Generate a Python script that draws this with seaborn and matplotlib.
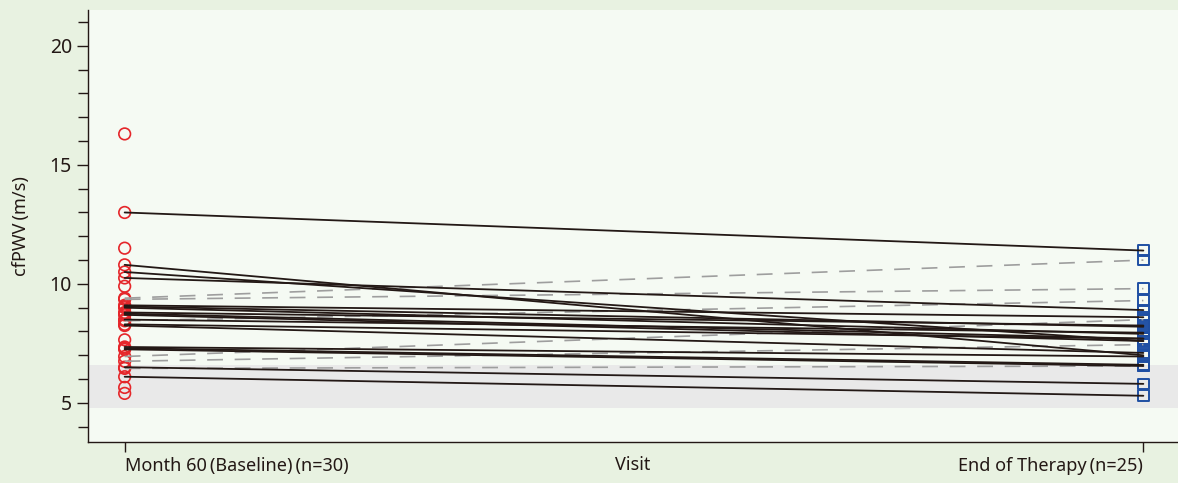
import numpy as np
import pandas as pd
import matplotlib
matplotlib.use("Agg")
import matplotlib.pyplot as plt
import seaborn as sns
from matplotlib.ticker import MultipleLocator

# ---------------- data ----------------
visit_labels = ["Month 60\u2009(Baseline)\u2009(n=30)", "End of Therapy\u2009(n=25)"]
y_label = "cfPWV\u2009(m/s)"
x_label = "Visit"

# paired subjects whose cfPWV decreased (solid black)
dec_baseline = [13.0, 10.8, 10.5, 10.25, 9.1, 9.05, 9.0, 8.8, 8.75, 8.7, 8.5, 8.3, 8.25, 7.35, 7.3, 7.25, 6.5, 6.1]
dec_end      = [11.4, 7.0, 7.6, 8.9, 8.6, 8.2, 7.9, 8.25, 7.7, 7.6, 7.95, 7.7, 7.1, 6.95, 6.6, 6.55, 5.8, 5.3]
# paired subjects whose cfPWV increased (grey dashed)
inc_baseline = [9.4, 9.35, 8.45, 6.95, 6.75, 6.45]
inc_end      = [11.0, 9.8, 9.3, 8.5, 7.45, 6.55]
# baseline-only subjects
only_baseline = [16.3, 11.5, 9.9, 7.65, 5.65, 5.4]

ref_band = (4.8, 6.6)

# ---------------- tidy frames ----------------
rows = []
sid = 0
for b, e in zip(dec_baseline, dec_end):
    rows += [dict(id=sid, visit=0, value=b, trend="dec"), dict(id=sid, visit=1, value=e, trend="dec")]
    sid += 1
for b, e in zip(inc_baseline, inc_end):
    rows += [dict(id=sid, visit=0, value=b, trend="inc"), dict(id=sid, visit=1, value=e, trend="inc")]
    sid += 1
lines_df = pd.DataFrame(rows)

base_pts = pd.DataFrame({"visit": 0, "value": dec_baseline + inc_baseline + only_baseline})
end_pts = pd.DataFrame({"visit": 1, "value": dec_end + inc_end})

# ---------------- figure ----------------
sns.set_style("ticks")
plt.rcParams["font.family"] = ["Noto Sans", "DejaVu Sans"]

ink = "#231815"
fig = plt.figure(figsize=(11.78, 4.83), dpi=100, facecolor="#e8f2e1")
ax = fig.add_axes([0.0747, 0.085, 0.9253, 0.894])
ax.set_facecolor("#f5faf3")

ax.axhspan(*ref_band, color="#e9e9e9", zorder=0, lw=0)

sns.scatterplot(data=base_pts, x="visit", y="value", ax=ax, marker="o", s=70,
                facecolor="none", edgecolor="#e5262a", linewidth=1.2, zorder=2, legend=False)
sns.scatterplot(data=end_pts, x="visit", y="value", ax=ax, marker="s", s=58,
                facecolor="none", edgecolor="#1f4fa3", linewidth=1.4, zorder=2, legend=False)

sns.lineplot(data=lines_df[lines_df.trend == "inc"], x="visit", y="value", units="id",
             estimator=None, ax=ax, color="#9e9e9e", lw=1.2, zorder=3, legend=False)
sns.lineplot(data=lines_df[lines_df.trend == "dec"], x="visit", y="value", units="id",
             estimator=None, ax=ax, color=ink, lw=1.3, zorder=4, legend=False)

for ln in ax.lines:
    if matplotlib.colors.to_hex(ln.get_color()) == "#9e9e9e":
        ln.set_linestyle((0, (9.5, 7)))

ax.set_xlim(-0.036, 1.034)
ax.set_ylim(3.36, 21.5)
ax.set_xticks([0, 1])
ax.set_xticklabels(visit_labels, fontsize=13, color=ink)
tl = ax.get_xticklabels()
tl[0].set_ha("left")
tl[0].set_x(0)
tl[1].set_ha("right")
ax.set_yticks([5, 10, 15, 20])
ax.yaxis.set_minor_locator(MultipleLocator(1))
ax.tick_params(axis="y", which="major", length=8, width=1, labelsize=14, colors=ink)
ax.tick_params(axis="y", which="minor", length=7, width=1, color=ink)
ax.tick_params(axis="x", length=7, width=1, labelsize=13, colors=ink, pad=4)
ax.set_xlabel(x_label, fontsize=13, color=ink, labelpad=-14)
ax.set_ylabel(y_label, fontsize=13, color=ink, labelpad=14)

for s in ["top", "right"]:
    ax.spines[s].set_visible(False)
for s in ["left", "bottom"]:
    ax.spines[s].set_color(ink)
    ax.spines[s].set_linewidth(1)

fig.savefig("out.png", dpi=100, facecolor=fig.get_facecolor())
